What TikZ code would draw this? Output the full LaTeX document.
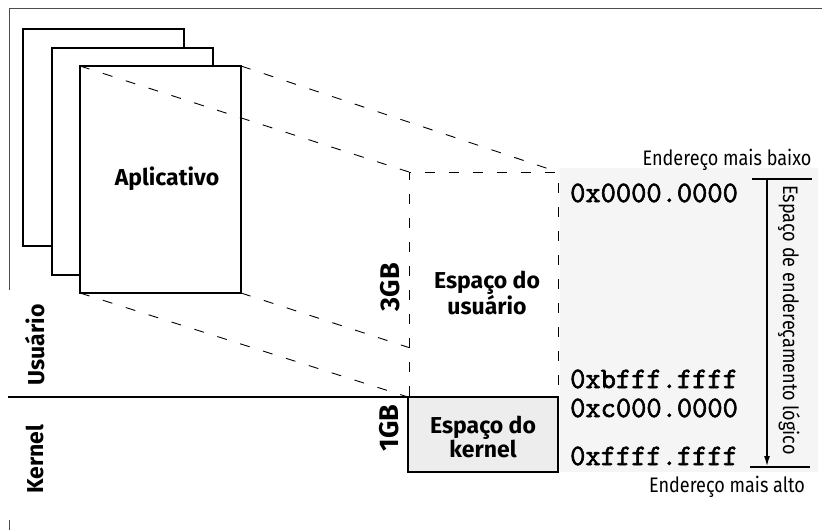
\documentclass[tikz,border=0pt]{standalone}
\usepackage{fontspec}
\setmainfont{Fira Sans}
\newfontfamily\condfont[FakeStretch=0.86]{Fira Sans}
\newfontfamily\hexfont[FakeBold=2]{Latin Modern Mono}
\usetikzlibrary{calc,arrows.meta}
\begin{document}
\begin{tikzpicture}[x=1pt,y=-1pt,
  page/.style={draw, line width=1.6pt, fill=white, inner sep=0pt, outer sep=0pt, minimum width=161pt},
  persp/.style={dash pattern=on 10pt off 14pt, line width=0.9pt},
  bigtxt/.style={font=\fontsize{23}{19}\selectfont\bfseries, align=center, inner sep=0pt},
  gbtxt/.style={font=\fontsize{27}{27}\selectfont\bfseries, rotate=90, inner sep=0pt},
  sidetxt/.style={font=\fontsize{23}{23}\selectfont\bfseries, rotate=90, inner sep=0pt},
  hex/.style={font=\hexfont\fontsize{29.6}{29.6}\selectfont, anchor=base west, inner sep=0pt},
  addr/.style={font=\condfont\fontsize{21}{21}\selectfont, inner sep=0pt},
  frame/.style={line width=0.8pt, black!70}
]
\useasboundingbox (0,0) rectangle (822,530);

% faint background of the address column
\fill[black!4] (560,168) rectangle (818,472);

% outer frame
\coordinate (fb) at (9,290);
\coordinate (fc) at (9,8);
\coordinate (fr) at (822,8);
\draw[frame] (fb) -- (fc) -- (fr);
\coordinate (tk1) at (9,520);
\coordinate (tk2) at (9,530);
\draw[frame] (tk1) -- (tk2);

% application pages
\node[page, minimum height=217pt] (p1) at (103.5,137.5) {};
\node[page, minimum height=227pt] (p2) at (132.5,161.5) {};
\node[page, minimum height=227pt] (p3) at (160.5,179.5) {};
\node[bigtxt] (app) at (167,179) {Aplicativo};

% user space (dashed) and kernel space boxes
\node[inner sep=0pt, outer sep=0pt, minimum width=149pt, minimum height=224pt] (ubox) at (483.5,284) {};
\node[draw, line width=1.8pt, fill=black!7, inner sep=0pt, outer sep=0pt, minimum width=150pt, minimum height=75pt] (kbox) at (483,434.5) {};
\draw[persp] (ubox.south west) -- (ubox.north west) -- (ubox.north east) -- (ubox.south east);

% perspective lines
\draw[persp] (p3.north west) -- (ubox.north west);
\draw[persp] (p3.north east) -- (ubox.north east);
\draw[persp] (p3.south west) -- (kbox.north west);
\draw[persp] (p3.south east) -- ($(p3.south east)!0.53!(ubox.south east)$);

% separator user / kernel
\coordinate (sepL) at (8,397);
\draw[line width=1.4pt] (sepL) -- (kbox.north west);

\node[bigtxt] (utxt) at (487,293) {Espaço do\\usuário};
\node[bigtxt] (ktxt) at (483,437) {Espaço do\\kernel};
\node[gbtxt] (g3) at (390,287) {3GB};
\node[gbtxt] (g1) at (389,428) {1GB};
\node[sidetxt] (usr) at (35,345) {Usuário};
\node[sidetxt] (ker) at (35,459) {Kernel};

% addresses
\node[hex] (a1) at (570,202) {0x0000.0000};
\node[hex] (a2) at (570,388) {0xbfff.ffff};
\node[hex] (a3) at (570,417) {0xc000.0000};
\node[hex] (a4) at (570,465) {0xffff.ffff};

% logical address space arrow
\coordinate (tl) at (752,179);
\coordinate (tr) at (812,179);
\coordinate (bl) at (750,467);
\coordinate (br) at (810,467);
\coordinate (at) at (767,179);
\coordinate (ab) at (767,466);
\draw[line width=1.4pt] (tl) -- (tr);
\draw[line width=1.4pt] (bl) -- (br);
\draw[line width=1.2pt, -{Latex[length=10pt,width=6pt]}] (at) -- (ab);

\node[addr, anchor=base] (lo) at (727,165) {Endereço mais baixo};
\node[addr, anchor=base] (hi) at (727,492) {Endereço mais alto};
\node[addr, rotate=-90] (las) at (789,320) {Espaço de endereçamento lógico};
\end{tikzpicture}
\end{document}
